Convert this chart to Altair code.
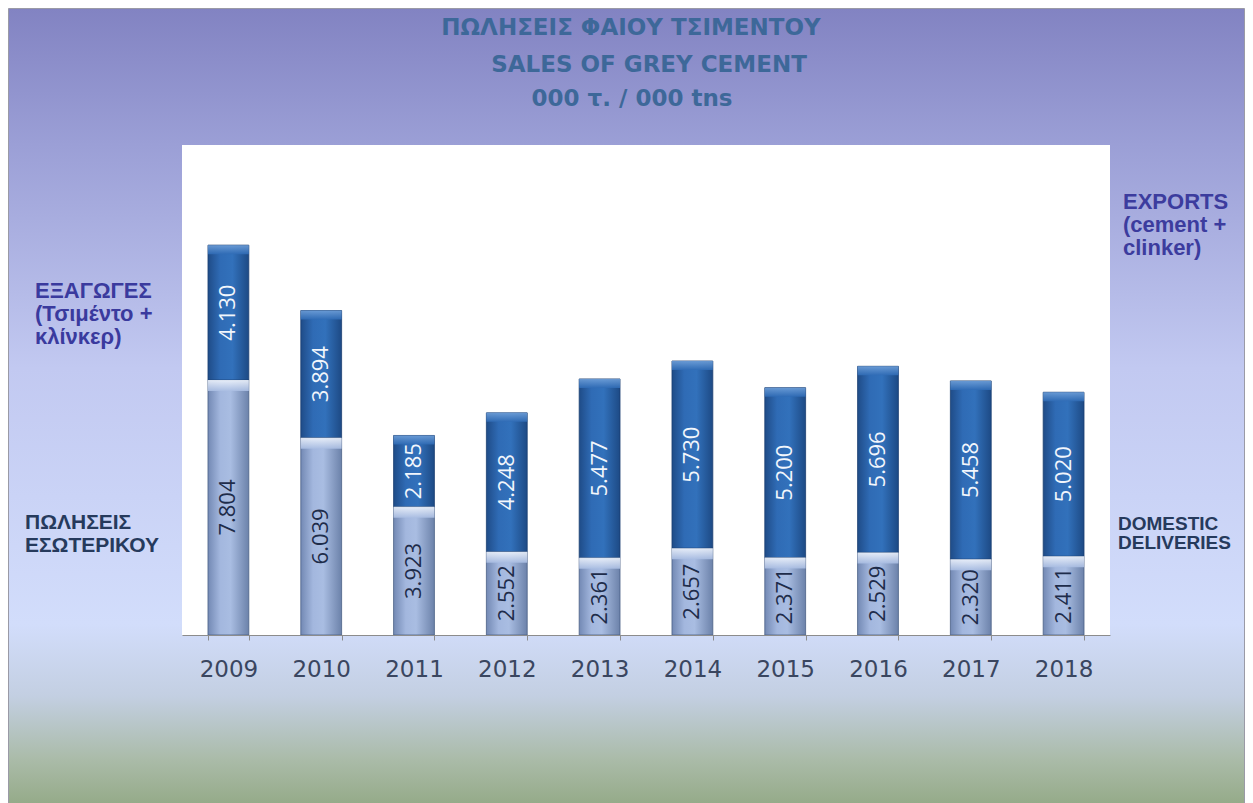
import altair as alt
import pandas as pd

# ---------------- data ----------------
YEARS = ["2009", "2010", "2011", "2012", "2013", "2014", "2015", "2016", "2017", "2018"]
DOMESTIC = [7804, 6039, 3923, 2552, 2361, 2657, 2371, 2529, 2320, 2411]
EXPORTS = [4130, 3894, 2185, 4248, 5477, 5730, 5200, 5696, 5458, 5020]

TITLE_LINE_1 = "ΠΩΛΗΣΕΙΣ ΦΑΙΟΥ ΤΣΙΜΕΝΤΟΥ"
TITLE_LINE_2 = "SALES OF GREY CEMENT"
TITLE_LINE_3 = "000 τ. / 000 tns"
LEFT_EXPORT_LINES = ["ΕΞΑΓΩΓΕΣ", "(Τσιμέντο +", "κλίνκερ)"]
LEFT_DOMESTIC_LINES = ["ΠΩΛΗΣΕΙΣ", "ΕΣΩΤΕΡΙΚΟΥ"]
RIGHT_EXPORT_LINES = ["EXPORTS", "(cement +", "clinker)"]
RIGHT_DOMESTIC_LINES = ["DOMESTIC", "DELIVERIES"]

# ---------------- layout ----------------
W, H = 928, 490
PAD = {"left": 174, "top": 137, "right": 135, "bottom": 168}

df = pd.DataFrame({"year": YEARS, "domestic": DOMESTIC, "exports": EXPORTS})

base = alt.Chart(df).transform_calculate(
    total="datum.domestic + datum.exports",
    dom_mid="datum.domestic / 2",
    exp_mid="datum.domestic + datum.exports / 2",
    dom_label="replace(format(datum.domestic, ','), ',', '.')",
    exp_label="replace(format(datum.exports, ','), ',', '.')",
)

x_enc = alt.X(
    "year:N",
    sort=YEARS,
    scale=alt.Scale(paddingInner=0.56, paddingOuter=0.28),
    axis=alt.Axis(
        title=None, labelAngle=0, labelFont="DejaVu Sans", labelFontSize=23,
        labelColor="#3a4660", labelPadding=18, domainColor="#8c8c8c",
        tickColor="#8c8c8c", tickSize=5, tickBand="extent", grid=False,
        zindex=2,
    ),
)
y_scale = alt.Scale(domain=[0, 15000])


def grad_h(stops):
    return alt.LinearGradient(
        gradient="linear",
        stops=[alt.GradientStop(color=c, offset=o) for o, c in stops],
        x1=0, x2=1, y1=0, y2=0,
    )


def grad_v(stops):
    return alt.LinearGradient(
        gradient="linear",
        stops=[alt.GradientStop(color=c, offset=o) for o, c in stops],
        x1=0, x2=0, y1=0, y2=1,
    )


one = alt.Data(values=[{}])

background = alt.Chart(one).mark_rect(
    fill=grad_v([
        (0.0, "#8283c2"), (0.17, "#9b9fd6"), (0.45, "#c2c9f1"),
        (0.77, "#d2ddfb"), (0.86, "#c3cfe2"), (0.94, "#aabba8"), (1.0, "#93a986"),
    ]),
    stroke="#9a9aa6", strokeWidth=1,
).encode(
    x=alt.value(-PAD["left"] + 0.5), x2=alt.value(W + PAD["right"] - 0.5),
    y=alt.value(-PAD["top"] + 0.5), y2=alt.value(H + PAD["bottom"] + 5),
)

plot_bg = alt.Chart(one).mark_rect(fill="#ffffff").encode(
    x=alt.value(0), x2=alt.value(W), y=alt.value(0), y2=alt.value(H)
)

dom_bar = base.mark_bar(
    fill=grad_h([(0, "#7389b4"), (0.3, "#a3b7de"), (0.55, "#a9bde2"), (1, "#6c82aa")]),
    stroke="#4a5f85", strokeWidth=0.8,
).encode(x=x_enc, y=alt.Y("domestic:Q", scale=y_scale, axis=None))

exp_bar = base.mark_bar(
    fill=grad_h([(0, "#1f4c88"), (0.3, "#2f6bb5"), (0.6, "#3271bb"), (1, "#1d4a85")]),
    stroke="#1b3e70", strokeWidth=0.8,
).encode(
    x=x_enc,
    y=alt.Y("total:Q", scale=y_scale, axis=None),
    y2=alt.Y2("domestic:Q"),
)

dom_cap = base.mark_bar(
    fill=grad_v([(0, "#eef3fb"), (1, "#a9bde2")]), y2Offset=11, opacity=0.9,
).encode(x=x_enc, y=alt.Y("domestic:Q", scale=y_scale, axis=None), y2=alt.Y2("domestic:Q"))

exp_cap = base.mark_bar(
    fill=grad_v([(0, "#6f9fd8"), (1, "#2f6bb5")]), y2Offset=9, opacity=0.9,
).encode(x=x_enc, y=alt.Y("total:Q", scale=y_scale, axis=None), y2=alt.Y2("total:Q"))

dom_text = base.mark_text(
    angle=270, font="Open Sans", fontSize=22, color="#1e2c4a",
    align="center", baseline="middle",
).encode(x=x_enc, y=alt.Y("dom_mid:Q", scale=y_scale, axis=None), text="dom_label:N")

exp_text = base.mark_text(
    angle=270, font="Open Sans", fontSize=22, color="#f2f6fc",
    align="center", baseline="middle",
).encode(x=x_enc, y=alt.Y("exp_mid:Q", scale=y_scale, axis=None), text="exp_label:N")


def label(lines, px, py, size, weight, color, align="left", line_height=23, font="Liberation Sans"):
    return alt.Chart(one).mark_text(
        align=align, baseline="alphabetic", font=font, fontSize=size,
        fontWeight=weight, color=color, lineHeight=line_height,
    ).encode(x=alt.value(px), y=alt.value(py), text=alt.value(lines))


title_color = "#3d6899"
t1 = label(TITLE_LINE_1, 449, -110, 23, "bold", title_color, align="center", font="DejaVu Sans")
t2 = label(TITLE_LINE_2, 467, -73, 23, "bold", title_color, align="center", font="DejaVu Sans")
t3 = label(TITLE_LINE_3, 450, -39, 23, "bold", title_color, align="center", font="DejaVu Sans")

l_exp = label(LEFT_EXPORT_LINES, -147, 153, 22, "bold", "#3a3a9e", line_height=23)
l_dom = label(LEFT_DOMESTIC_LINES, -157, 384, 21, "bold", "#263a5c", line_height=23)
r_exp = label(RIGHT_EXPORT_LINES, 941, 64, 22, "bold", "#3c3c9e", line_height=23)
r_dom = label(RIGHT_DOMESTIC_LINES, 936, 385, 19, "bold", "#263a5c", line_height=19)

chart = alt.layer(
    background, plot_bg, dom_bar, exp_bar, dom_cap, exp_cap, dom_text, exp_text,
    t1, t2, t3, l_exp, l_dom, r_exp, r_dom,
).properties(
    width=W, height=H, padding=PAD,
    autosize=alt.AutoSizeParams(type="none"),
    background="white",
).configure_view(stroke=None)

chart.save("out.html", embed_options={"renderer": "svg", "actions": False})
